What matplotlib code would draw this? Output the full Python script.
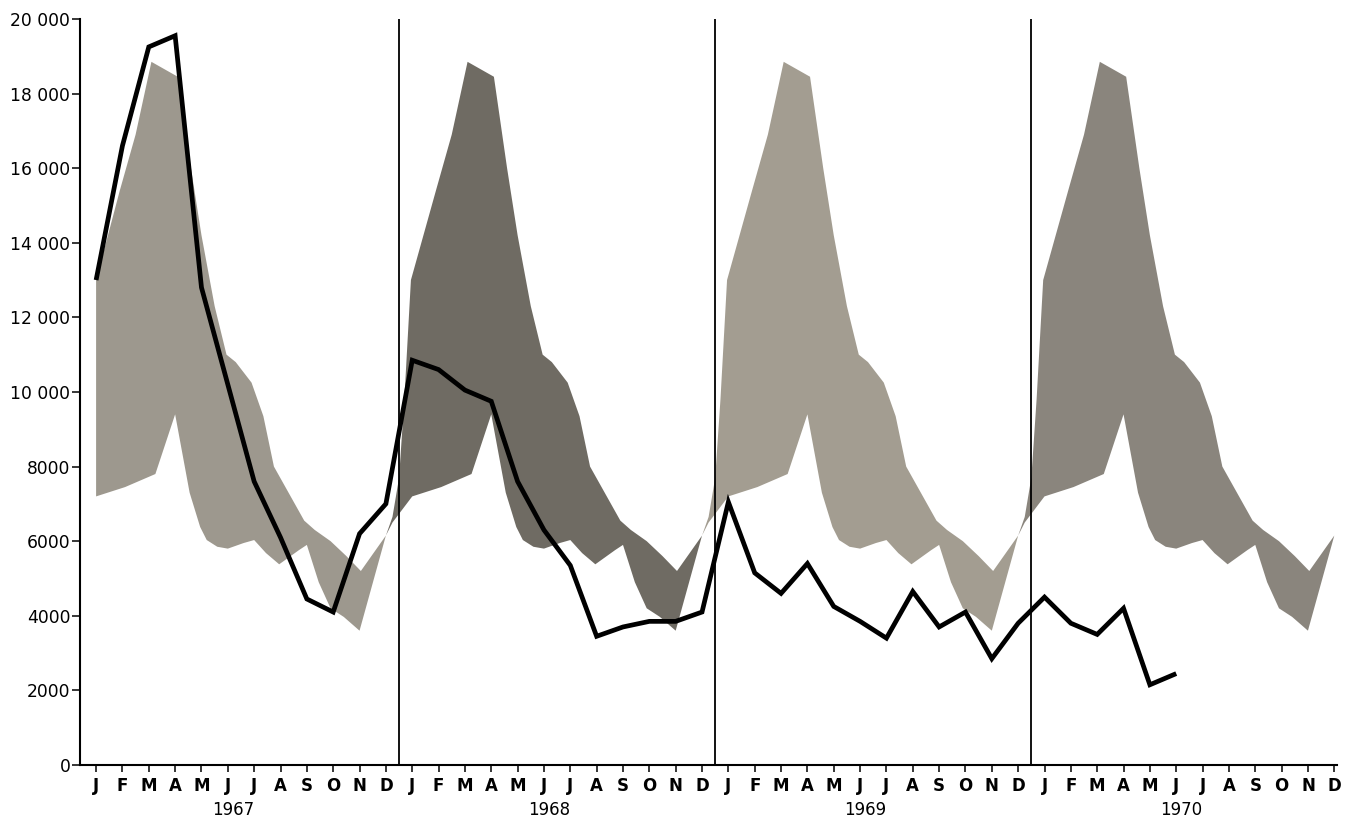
import numpy as np
import matplotlib.pyplot as plt
import matplotlib.transforms as mtransforms

# month letters and year labels along the x axis
months = list("JFMAMJJASOND")
years = ['1967', '1968', '1969', '1970']

# monthly values, Jan 1967 - Jun 1970 (black line)
actual = [13000, 16600, 19250, 19550, 12800, 10200, 7600, 6100, 4450, 4100, 6200, 7000,
          10850, 10600, 10050, 9750, 7600, 6300, 5350, 3450, 3700, 3850, 3850, 4100,
          7050, 5150, 4600, 5400, 4250, 3850, 3400, 4650, 3700, 4100, 2850, 3800,
          4500, 3800, 3500, 4200, 2150, 2450]

# seasonal band (same shape every year), month position within the year -> value
band_up_m = [-1.0, -0.75, -0.5, -0.3, -0.05, 0.9, 1.5, 2.1, 3.1, 3.6, 4.0, 4.5, 4.95,
             5.3, 5.9, 6.35, 6.75, 7.9, 8.3, 8.9, 9.5, 10.05, 11.0]
band_up_v = [6150, 6650, 7700, 9800, 13000, 15400, 16900, 18850, 18450, 16000, 14200,
             12300, 11000, 10800, 10250, 9350, 8000, 6550, 6300, 6000, 5600, 5200, 6150]
band_lo_m = [-1.0, -0.75, 0.0, 1.1, 2.25, 3.0, 3.55, 3.95, 4.2, 4.6, 5.0, 5.6, 6.0, 6.45,
             6.95, 7.7, 8.0, 8.45, 8.9, 9.4, 10.0, 11.0]
band_lo_v = [6150, 6500, 7200, 7450, 7800, 9400, 7300, 6380, 6030, 5850, 5800, 5950, 6030,
             5680, 5380, 5760, 5900, 4900, 4200, 3970, 3600, 6150]

# print shade of the band in each year
band_colors = ['#9d988e', '#6f6b63', '#a39d91', '#8a857d']

fig = plt.figure(figsize=(13.45, 8.23), dpi=100)
ax = fig.add_axes([0.0595, 0.0705, 0.9345, 0.9065])

# draw the band one year at a time
for k in range(len(years)):
    up_x = np.array(band_up_m) + 12 * k
    up_y = np.array(band_up_v)
    lo_x = np.array(band_lo_m) + 12 * k
    lo_y = np.array(band_lo_v)
    if k == 0:
        # first year has no December before it, starts straight at J
        keep = up_x >= 12 * k - 0.05
        up_x, up_y = np.maximum(up_x[keep], 0), up_y[keep]
        keep = lo_x >= 12 * k
        lo_x, lo_y = lo_x[keep], lo_y[keep]
    ax.fill(np.concatenate([up_x, lo_x[::-1]]), np.concatenate([up_y, lo_y[::-1]]),
            color=band_colors[k], lw=0, zorder=1)

# year separators
for k in range(1, len(years)):
    ax.axvline(12 * k - 0.5, color='black', lw=1.3, zorder=2)

ax.plot(np.arange(len(actual)), actual, color='black', lw=3.4,
        solid_joinstyle='miter', solid_capstyle='butt', zorder=3)

ax.set_xlim(-0.61, 47.1)
ax.set_ylim(0, 20000)

ax.spines['top'].set_visible(False)
ax.spines['right'].set_visible(False)
ax.spines['left'].set_linewidth(1.5)
ax.spines['bottom'].set_linewidth(1.5)

yticks = np.arange(0, 20001, 2000)
ylabels = [f'{v:,}'.replace(',', ' ') if v >= 10000 else str(v) for v in yticks]
ax.set_yticks(yticks)
ax.set_yticklabels(ylabels, fontsize=12.3, fontfamily='DejaVu Sans')
ax.tick_params(axis='y', direction='out', length=6, width=1.1, pad=1)

ax.set_xticks(np.arange(12 * len(years)))
ax.set_xticklabels(months * len(years), fontsize=12, fontweight='bold',
                   fontfamily='DejaVu Sans')
ax.tick_params(axis='x', direction='out', length=5, width=1.1, pad=4)

# year labels under the month letters
trans = mtransforms.blended_transform_factory(ax.transData, fig.transFigure)
for k, yr in enumerate(years):
    ax.text(12 * k + 5.2, 1 - 810 / 823, yr, transform=trans, ha='center', va='center',
            fontsize=12, fontfamily='DejaVu Sans')

fig.savefig('out.png', dpi=100)
